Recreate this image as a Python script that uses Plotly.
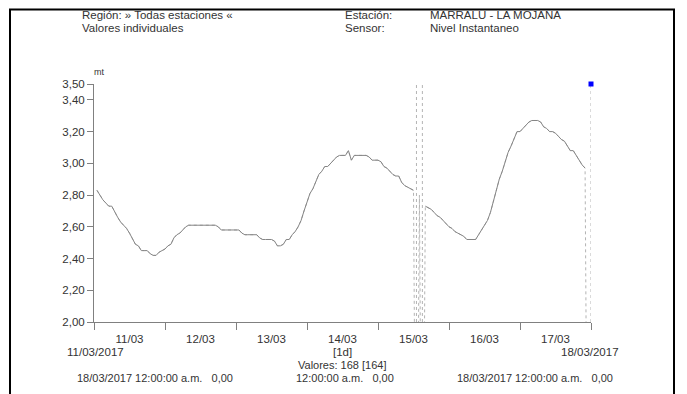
import pandas as pd
import plotly.graph_objects as go

# ---------- DATA ----------
# hourly level readings, 11/03/2017 01:00 -> 18/03/2017 00:00 (None = missing)
nivel = [
    2.83, 2.80, 2.77, 2.75, 2.73, 2.73, 2.69, 2.66, 2.63, 2.61, 2.59, 2.56,
    2.52, 2.49, 2.48, 2.45, 2.45, 2.45, 2.43, 2.42, 2.42, 2.44, 2.45, 2.46,
    2.48, 2.49, 2.53, 2.55, 2.56, 2.58, 2.60, 2.61, 2.61, 2.61, 2.61, 2.61,
    2.61, 2.61, 2.61, 2.61, 2.61, 2.60, 2.58, 2.58, 2.58, 2.58, 2.58, 2.58,
    2.58, 2.56, 2.55, 2.55, 2.55, 2.55, 2.55, 2.53, 2.52, 2.52, 2.52, 2.52,
    2.51, 2.48, 2.48, 2.49, 2.52, 2.52, 2.55, 2.57, 2.60, 2.64, 2.70, 2.75,
    2.81, 2.84, 2.88, 2.93, 2.95, 2.98, 2.98, 3.00, 3.02, 3.04, 3.05, 3.05,
    3.05, 3.08, 3.02, 3.05, 3.05, 3.05, 3.05, 3.05, 3.04, 3.02, 3.02, 3.02,
    3.01, 2.98, 2.97, 2.95, 2.93, 2.92, 2.92, 2.88, 2.86, 2.85, 2.84, 2.83,
    None, 2.80, None, 2.73, 2.72, 2.71, 2.69, 2.67, 2.66, 2.64, 2.62, 2.60,
    2.59, 2.57, 2.56, 2.55, 2.54, 2.52, 2.52, 2.52, 2.52, 2.55, 2.58, 2.61,
    2.64, 2.69, 2.76, 2.83, 2.90, 2.95, 3.01, 3.07, 3.11, 3.15, 3.20, 3.20,
    3.22, 3.24, 3.26, 3.27, 3.27, 3.27, 3.26, 3.23, 3.22, 3.20, 3.20, 3.19,
    3.17, 3.15, 3.14, 3.11, 3.08, 3.08, 3.05, 3.02, 2.99, 2.97, None, None,
]
fechas = pd.date_range("2017-03-11 01:00", periods=len(nivel), freq="h")

# marker shown at the end of the series
marca_valor = [3.5]

dias = pd.date_range("2017-03-11", "2017-03-18", freq="D")
dia_labels = ["11/03", "12/03", "13/03", "14/03", "15/03", "16/03", "17/03"]
y_ticks = [2.0, 2.2, 2.4, 2.6, 2.8, 3.0, 3.2, 3.4, 3.5]
y_labels = ["2,00", "2,20", "2,40", "2,60", "2,80", "3,00", "3,20", "3,40", "3,50"]

FONT = "Liberation Sans Narrow, Arial Narrow, Liberation Sans, Arial"
GRIS = "#333333"

# missing values drawn as dotted drops to zero
huecos = [f for f, v in zip(fechas, nivel) if v is None and f != fechas[-2]]
ceros = [0.0 if v is None else v for v in nivel]

fig = go.Figure()

fig.add_trace(go.Scatter(
    x=fechas, y=ceros, mode="lines",
    line=dict(color="#b4b4b4", width=1, dash="dot"),
    hoverinfo="skip", showlegend=False
))

# full height dotted lines at gaps
vx, vy = [], []
for f in huecos:
    vx += [f, f, None]
    vy += [y_ticks[0], y_ticks[-1], None]
fig.add_trace(go.Scatter(
    x=vx, y=vy, mode="lines",
    line=dict(color="#b4b4b4", width=1, dash="dot"),
    hoverinfo="skip", showlegend=False
))

fig.add_trace(go.Scatter(
    x=fechas, y=nivel, mode="lines",
    line=dict(color="#858585", width=1),
    connectgaps=False, showlegend=False
))

fig.add_trace(go.Scatter(
    x=fechas[-1:], y=marca_valor, mode="markers",
    marker=dict(color="#0000ff", size=5, symbol="square"),
    cliponaxis=False, showlegend=False
))

# page body has an 8px margin, so the figure is 8px smaller
fig.update_layout(
    width=679, height=386,
    margin=dict(l=86, r=96, t=76, b=72),
    paper_bgcolor="white", plot_bgcolor="white",
    font=dict(family=FONT, size=12, color=GRIS),
    showlegend=False,
)

fig.update_xaxes(
    range=[dias[0], dias[-1]],
    tickvals=dias[:-1] + pd.Timedelta(hours=12),
    ticktext=dia_labels,
    ticks="outside", ticklen=6, tickcolor="rgba(0,0,0,0)",
    showgrid=False, zeroline=False,
    showline=True, linecolor="#808080", linewidth=1,
    tickfont=dict(family=FONT, size=11.5, color=GRIS),
    minor=dict(tickvals=dias, ticks="outside", ticklen=7,
               tickcolor="#808080", tickwidth=1, showgrid=False),
)
fig.update_yaxes(
    range=[2.0, 3.5],
    tickvals=y_ticks, ticktext=y_labels,
    ticks="outside", ticklen=6, tickcolor="#808080",
    showgrid=False, zeroline=False,
    showline=True, linecolor="#808080", linewidth=1,
    tickfont=dict(family=FONT, size=11.5, color=GRIS),
)

# ---------- TEXT ----------
def px_x(p):
    return (p - 94) / 497.0

def px_y(p):
    return (322 - p) / 238.0

textos = [
    ("Región: » Todas estaciones «", 80, 15, "left", 11.5),
    ("Valores individuales", 80, 28, "left", 11.5),
    ("Estación:", 343, 15, "left", 11.5),
    ("Sensor:", 343, 28, "left", 11.5),
    ("MARRALU - LA MOJANA", 428, 15, "left", 11.5),
    ("Nivel Instantaneo", 428, 28, "left", 11.5),
    ("mt", 92, 72, "left", 9),
    ("11/03/2017", 95, 352, "center", 11.5),
    ("18/03/2017", 590, 352, "center", 11.5),
    ("[1d]", 342, 352, "center", 11.5),
    ("Valores: 168 [164]", 342, 365, "center", 11),
    ("18/03/2017 12:00:00 a.m.   0,00", 155, 378, "center", 11),
    ("12:00:00 a.m.   0,00", 345, 378, "center", 11),
    ("18/03/2017 12:00:00 a.m.   0,00", 535, 378, "center", 11),
]
for t, x, y, a, s in textos:
    fig.add_annotation(
        text=t.replace("   ", "&nbsp;&nbsp;&nbsp;"),
        xref="paper", yref="paper", x=px_x(x), y=px_y(y),
        xanchor=a, yanchor="middle", showarrow=False,
        font=dict(family=FONT, size=s, color=GRIS),
    )

# outer frame
fig.add_shape(
    type="rect", xref="paper", yref="paper",
    x0=px_x(10), x1=px_x(674), y0=px_y(400), y1=px_y(9.5),
    line=dict(color="black", width=2), fillcolor="rgba(0,0,0,0)",
)

fig.write_html("out.html")
